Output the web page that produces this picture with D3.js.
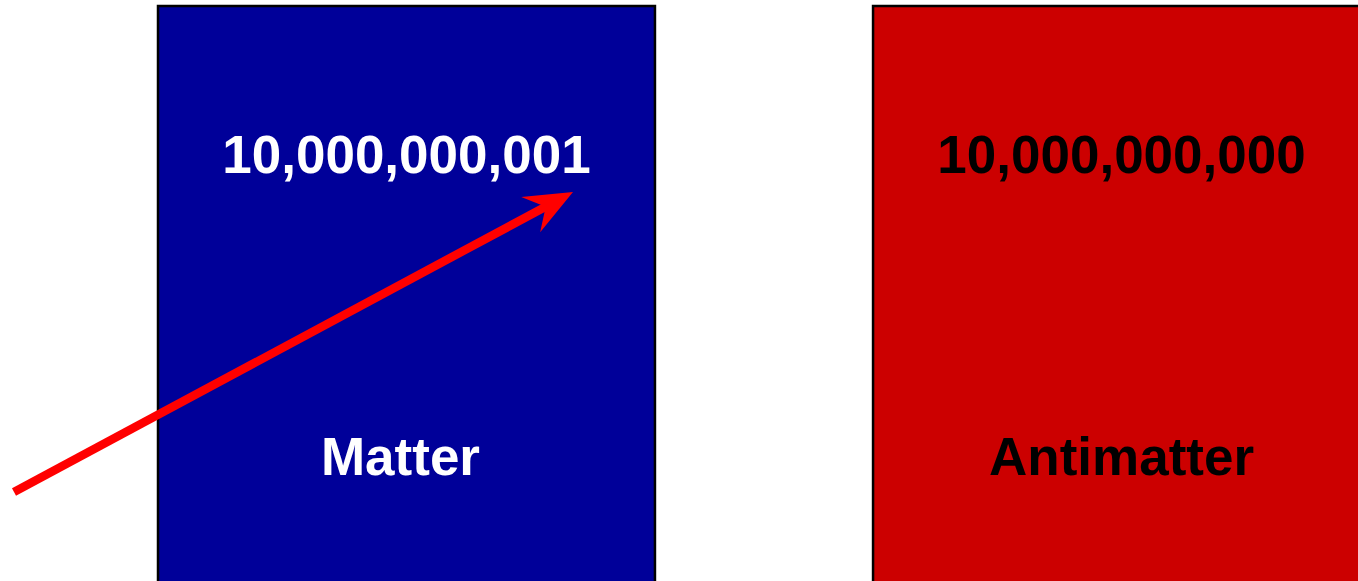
<!DOCTYPE html>
<html><head><meta charset="utf-8">
<script src="https://cdn.jsdelivr.net/npm/d3@7"></script>
<style>html,body{margin:0;padding:0;background:#fff;overflow:hidden}</style>
</head><body>
<svg id="c" width="1358" height="581"></svg>
<script>
const categories = ["Matter", "Antimatter"];
const counts = [10000000001, 10000000000];
const fills = ["#000099", "#CC0000"];
const textColors = ["#ffffff", "#000000"];

const svg = d3.select("#c");
const W = 1358, H = 581;

const x = d3.scaleBand().domain(categories).range([158, 1370]).paddingInner(0.305);
const fmt = d3.format(",");

const g = svg.selectAll("g.box").data(categories).join("g").attr("class", "box");
g.append("rect")
  .attr("x", d => x(d))
  .attr("y", 6)
  .attr("width", x.bandwidth())
  .attr("height", H + 20)
  .attr("fill", (d, i) => fills[i])
  .attr("stroke", "#000")
  .attr("stroke-width", 2.5);

g.append("text")
  .attr("x", d => x(d) + x.bandwidth() / 2 + 0)
  .attr("y", 173)
  .attr("text-anchor", "middle")
  .attr("font-family", "Liberation Sans, Arial, sans-serif")
  .attr("font-weight", "bold")
  .attr("font-size", 53)
  .attr("fill", (d, i) => textColors[i])
  .text((d, i) => fmt(counts[i]));

g.append("text")
  .attr("x", (d, i) => x(d) + x.bandwidth() / 2 - (i === 0 ? 6 : 0))
  .attr("y", 475)
  .attr("text-anchor", "middle")
  .attr("font-family", "Liberation Sans, Arial, sans-serif")
  .attr("font-weight", "bold")
  .attr("font-size", 53)
  .attr("fill", (d, i) => textColors[i])
  .text(d => d);

// arrow annotation
const tail = [14, 492], tip = [573, 192];
const ang = Math.atan2(tip[1] - tail[1], tip[0] - tail[0]);
const headLen = 48, headHalf = 20, notch = 31;
const ux = Math.cos(ang), uy = Math.sin(ang), px = -uy, py = ux;
const base = [tip[0] - ux * headLen, tip[1] - uy * headLen];
const nb = [tip[0] - ux * notch, tip[1] - uy * notch];
svg.append("line")
  .attr("x1", tail[0]).attr("y1", tail[1])
  .attr("x2", nb[0] + ux * 2).attr("y2", nb[1] + uy * 2)
  .attr("stroke", "#FF0000").attr("stroke-width", 8.5);
svg.append("path")
  .attr("d", `M${tip[0]},${tip[1]} L${base[0] + px * headHalf},${base[1] + py * headHalf} L${nb[0]},${nb[1]} L${base[0] - px * headHalf},${base[1] - py * headHalf} Z`)
  .attr("fill", "#FF0000");
</script>
</body></html>
